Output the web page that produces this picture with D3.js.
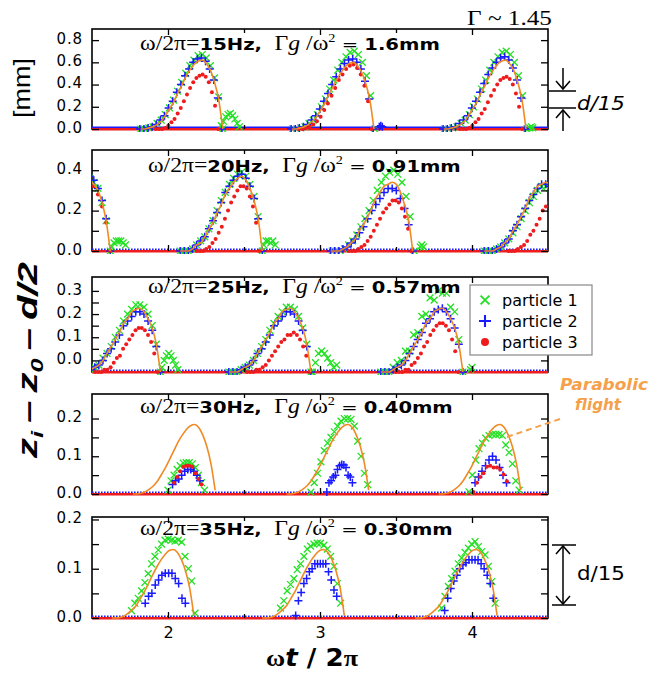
<!DOCTYPE html>
<html><head><meta charset="utf-8">
<script src="https://cdn.jsdelivr.net/npm/d3@7"></script>
<style>body{margin:0;background:#fff}svg{display:block}</style>
</head><body>
<svg id="c" width="664" height="675"></svg>
<script>
// ---------------- DATA ----------------
const xDomain = [1.5, 4.5];
const xMajorTicks = [2, 3, 4];
const xMinorTicks = [2.5, 3.5];
const freqLabels = ["15Hz", "20Hz", "25Hz", "30Hz", "35Hz"];
const ampLabels = ["1.6mm", "0.91mm", "0.57mm", "0.40mm", "0.30mm"];
const yDomains = [[0, 0.9], [0, 0.5], [-0.05, 0.36], [0, 0.265], [0, 0.205]];
const yLabelTicks = [[0, 0.2, 0.4, 0.6, 0.8], [0, 0.2, 0.4], [0, 0.1, 0.2, 0.3], [0, 0.1, 0.2], [0, 0.1, 0.2]];
const yMinorTicks = [[], [0.1, 0.3], [0.05, 0.15, 0.25], [0.05, 0.15], [0.05, 0.15]];
const restLevel = [0, 0, -0.05, 0, 0];
const legendLabels = ["particle 1", "particle 2", "particle 3"];

// tracks: [start (ωt/2π), sample step, heights z_i - z_0 - d/2 (mm)]
const green15 = [
  [1.82, 0.027, [0,0,.01,.02,.05,.08,.13,.19,.26,.34,.42,.50,.57,.62,.66,.67,.64,.57,.46,.29,0]],
  [2.35, 0.015, [.03,.07,.11,.13,.14,.12,.09,.05,.02]],
  [2.82, 0.027, [0,0,.01,.02,.05,.08,.13,.20,.27,.36,.44,.53,.60,.65,.69,.70,.67,.60,.48,.30,0]],
  [3.82, 0.027, [0,0,.01,.02,.05,.08,.13,.20,.27,.36,.44,.53,.60,.65,.69,.70,.67,.60,.48,.30,0]],
  [4.38, 0.01, [.01,.02,.01]]
];
const blue15 = [
  [1.815, 0.027, [0,0,.01,.02,.04,.08,.12,.19,.25,.33,.40,.48,.54,.60,.63,.64,.61,.54,.44,.28,0]],
  [2.81, 0.027, [0,0,.01,.02,.04,.08,.12,.18,.25,.32,.40,.47,.54,.59,.62,.63,.60,.54,.43,.27,0]],
  [3.39, 0.01, [.02,.03,.02]],
  [3.81, 0.027, [0,0,.01,.02,.05,.08,.12,.19,.25,.33,.41,.49,.55,.60,.64,.65,.62,.55,.44,.28,0]]
];
const red15 = [
  [1.92, 0.0205, [0,0,0,.01,.03,.06,.09,.14,.19,.25,.31,.37,.42,.46,.48,.49,.47,.42,.33,.21,0]],
  [2.86, 0.024, [0,0,.01,.02,.04,.07,.11,.17,.23,.30,.37,.44,.49,.54,.57,.58,.55,.49,.39,.25,0]],
  [3.92, 0.0205, [0,0,0,.01,.03,.06,.09,.14,.18,.24,.30,.35,.40,.44,.46,.47,.45,.40,.32,.20,0]]
];
const flight15 = [
  [1.82, 0.027, [0,0,.01,.02,.04,.07,.12,.18,.24,.32,.39,.47,.53,.58,.61,.62,.59,.53,.42,.27,0]],
  [2.815, 0.027, [0,0,.01,.02,.04,.07,.11,.17,.23,.31,.38,.45,.51,.56,.59,.60,.57,.51,.41,.26,0]],
  [3.815, 0.027, [0,0,.01,.02,.04,.07,.12,.18,.24,.32,.39,.47,.53,.58,.61,.62,.59,.53,.42,.27,0]]
];

const green20 = [
  [1.485, 0.027, [.36,.34,.31,.24,.15,0]],
  [1.63, 0.015, [.02,.04,.05,.05,.05,.04,.03]],
  [2.08, 0.027, [0,0,0,.01,.03,.05,.07,.11,.15,.20,.25,.29,.33,.36,.38,.39,.37,.33,.27,.17,0]],
  [2.63, 0.015, [.03,.05,.05,.04,.05,.03]],
  [3.08, 0.027, [0,0,0,.01,.03,.05,.08,.12,.16,.20,.25,.30,.34,.37,.39,.40,.38,.34,.27,.17,0]],
  [3.66, 0.01, [.02,.03,.02]],
  [4.08, 0.027, [0,0,0,.01,.02,.04,.06,.09,.12,.16,.20,.24,.27,.30,.32,.32,.31]]
];
const blue20 = [
  [1.485, 0.027, [.37,.35,.31,.25,.16,0]],
  [2.08, 0.027, [0,0,0,.01,.03,.05,.07,.11,.15,.19,.24,.29,.32,.35,.37,.38,.36,.32,.26,.16,0]],
  [3.07, 0.027, [0,0,0,.01,.02,.04,.06,.09,.12,.16,.20,.23,.26,.29,.31,.31,.30,.26,.21,.13,0]],
  [4.08, 0.027, [0,0,0,.01,.02,.04,.06,.10,.13,.17,.21,.25,.28,.31,.33,.33,.32]]
];
const red20 = [
  [1.485, 0.027, [.33,.32,.28,.22,.14,0]],
  [2.19, 0.0205, [0,0,0,.01,.02,.04,.06,.09,.12,.16,.20,.24,.27,.30,.32,.32,.31,.27,.22,.14,0]],
  [3.19, 0.0205, [0,0,0,.01,.02,.03,.05,.07,.10,.13,.16,.19,.21,.23,.25,.25,.24,.21,.17,.11,0]],
  [4.24, 0.0205, [0,0,0,.01,.02,.03,.05,.08,.10,.13,.16,.20,.22,.24]]
];
const flight20 = [
  [1.485, 0.027, [.35,.33,.30,.24,.15,0]],
  [2.08, 0.027, [0,0,0,.01,.03,.04,.07,.11,.14,.19,.23,.28,.31,.34,.36,.37,.35,.31,.25,.16,0]],
  [3.07, 0.027, [0,0,0,.01,.02,.04,.06,.10,.13,.17,.21,.26,.29,.32,.33,.34,.33,.29,.23,.15,0]],
  [4.08, 0.027, [0,0,0,.01,.02,.04,.06,.10,.13,.17,.21,.26,.29,.32,.33,.34,.33]]
];

const green25 = [
  [1.41, 0.027, [-.05,-.05,-.05,-.04,-.03,-.02,.01,.03,.06,.10,.13,.17,.20,.22,.24,.24,.23,.20,.15,.07,-.05]],
  [1.96, 0.015, [-.03,0,.02,.03,.02,0,-.02,-.04]],
  [2.40, 0.027, [-.05,-.05,-.05,-.04,-.03,-.02,0,.03,.06,.09,.13,.16,.19,.21,.23,.23,.22,.19,.14,.07,-.05]],
  [2.95, 0.02, [-.05,-.01,.03,.04,.03,.01,-.01,-.03,-.02]],
  [3.40, 0.027, [-.05,-.05,-.05,-.03,-.01,0,.04,.04,.11,.12,.19,.20,.27,.26,.30,.29,.29,.23,.21,.09,-.05]],
  [3.99, 0.01, [-.04,-.03]]
];
const blue25 = [
  [1.41, 0.027, [-.05,-.05,-.05,-.04,-.03,-.02,0,.03,.05,.08,.11,.15,.17,.19,.21,.21,.20,.17,.13,.06,-.05]],
  [2.40, 0.027, [-.05,-.05,-.05,-.04,-.03,-.02,0,.03,.05,.08,.11,.15,.17,.19,.21,.21,.20,.17,.13,.06,-.05]],
  [3.40, 0.027, [-.05,-.05,-.05,-.04,-.03,-.02,0,.03,.06,.09,.12,.16,.18,.21,.22,.225,.21,.18,.14,.07,-.05]]
];
const red25 = [
  [1.52, 0.0205, [-.05,-.05,-.05,-.04,-.04,-.03,-.01,.01,.02,.05,.07,.09,.11,.13,.14,.14,.13,.11,.08,.03,-.05]],
  [2.52, 0.0205, [-.05,-.05,-.05,-.04,-.04,-.03,-.02,0,.02,.04,.06,.08,.09,.11,.11,.12,.11,.09,.06,.02,-.05]],
  [3.50, 0.0205, [-.05,-.05,-.05,-.04,-.04,-.02,-.01,.01,.03,.06,.08,.11,.13,.15,.16,.16,.15,.13,.09,.04,-.05]]
];
const flight25 = [
  [1.41, 0.027, [-.05,-.05,-.05,-.04,-.03,-.02,0,.03,.06,.09,.12,.16,.18,.21,.22,.225,.21,.18,.14,.07,-.05]],
  [2.40, 0.027, [-.05,-.05,-.05,-.04,-.03,-.02,0,.03,.06,.09,.12,.16,.18,.21,.22,.225,.21,.18,.14,.07,-.05]],
  [3.40, 0.027, [-.05,-.05,-.05,-.04,-.03,-.02,0,.03,.06,.09,.12,.16,.18,.21,.22,.225,.21,.18,.14,.07,-.05]]
];

const green30 = [
  [2.00, 0.02, [.01,.035,.05,.065,.075,.082,.083,.083,.08,.07,.05,.03,.01]],
  [2.94, 0.022, [.005,.03,.055,.085,.115,.135,.15,.165,.18,.193,.2,.2,.198,.18,.14,.1,.055,.025]],
  [3.98, 0.022, [.006,.05,.09,.12,.135,.148,.155,.158,.158,.158,.155,.13,.11,.08,.035,.01]]
];
const blue30 = [
  [2.03, 0.02, [.025,.035,.04,.05,.06,.065,.065,.06,.05,.035]],
  [3.045, 0.014, [.005,.03,.035,.045,.05,.065,.075,.078,.077,.07,.05,.045,.03]],
  [4.02, 0.023, [.03,.045,.06,.075,.09,.1,.09,.07,.05,.03]]
];
const red30 = [
  [2.04, 0.02, [.03,.045,.06,.072,.075,.075,.072,.055,.04,.025]],
  [4.01, 0.022, [.005,.03,.045,.055,.072,.075,.07,.07,.065,.052,.034]]
];
const flight30 = [
  [1.77, 0.027, [0,0,.002,.006,.013,.022,.035,.053,.072,.094,.116,.138,.156,.171,.181,.184,.176,.156,.125,.079,.01]],
  [2.78, 0.027, [0,0,.002,.006,.013,.022,.035,.053,.072,.094,.116,.138,.156,.171,.181,.184,.176,.156,.125,.079,.01]],
  [3.78, 0.027, [0,0,.002,.006,.013,.022,.035,.053,.072,.094,.116,.138,.156,.171,.181,.184,.176,.156,.125,.079,.01]]
];

const green35 = [
  [1.76, 0.022, [.015,.03,.04,.055,.072,.09,.11,.125,.138,.15,.158,.16,.158,.156,.158,.154,.125,.1,.075,.01]],
  [2.74, 0.022, [.02,.035,.055,.068,.08,.098,.11,.125,.14,.146,.15,.152,.152,.148,.14,.125,.105,.07,.03]],
  [3.80, 0.022, [.02,.044,.064,.08,.095,.11,.122,.133,.142,.15,.155,.145,.135,.128,.105,.074,.03]]
];
const blue35 = [
  [1.85, 0.022, [.03,.044,.05,.067,.077,.087,.091,.091,.091,.08,.07,.04,.03]],
  [2.84, 0.018, [.005,.035,.052,.07,.08,.094,.1,.11,.11,.11,.11,.11,.094,.077,.057,.044]],
  [3.82, 0.02, [.015,.04,.06,.075,.087,.1,.108,.112,.118,.118,.118,.118,.11,.1,.087,.07,.04]]
];
const red35 = [];
const flight35 = [
  [1.63, 0.027, [0,0,.001,.004,.01,.017,.026,.04,.054,.071,.088,.104,.118,.129,.137,.139,.133,.118,.095,.06,.005]],
  [2.62, 0.027, [0,0,.001,.004,.01,.017,.026,.04,.054,.071,.088,.104,.118,.129,.137,.139,.133,.118,.095,.06,.005]],
  [3.625, 0.027, [0,0,.001,.004,.01,.017,.026,.04,.054,.071,.088,.104,.118,.129,.137,.139,.133,.118,.095,.06,.005]]
];

const panelSeries = [
  {green: green15, blue: blue15, red: red15, flight: flight15},
  {green: green20, blue: blue20, red: red20, flight: flight20},
  {green: green25, blue: blue25, red: red25, flight: flight25},
  {green: green30, blue: blue30, red: red30, flight: flight30},
  {green: green35, blue: blue35, red: red35, flight: flight35}
];

// ---------------- LAYOUT / STYLE ----------------
const serif = "'Liberation Serif','DejaVu Serif',serif";
const sans = "'DejaVu Sans',Verdana,sans-serif";
const arial = "'Liberation Sans',Arial,sans-serif";
const C = {green: '#22e022', blue: '#1a1aff', red: '#ee1c1c', orange: '#f08a24', orangeText: '#f5a04a'};
const L = 92, R = 548;
const panelTop = [29, 150, 277, 394, 517];
const panelBot = [129, 251, 372, 494, 618];
const titleX = [140, 148, 148, 140, 140];
const titleY = [50, 172, 293, 413, 535];
const titleW = [300, 313, 313, 313, 313];

const svg = d3.select('#c');
const x = d3.scaleLinear().domain(xDomain).range([L, R]);
const expand = tr => tr[2].map((v, k) => [tr[0] + k * tr[1], v]);
const pathX = 'M-3.4,-3.4L3.4,3.4M-3.4,3.4L3.4,-3.4';
const pathPlus = 'M-4,0H4M0,-4V4';

function fit(t, w) {
  const len = t.node().getComputedTextLength();
  if (len > 0) t.attr('transform', `scale(${w / len},1)`);
}

panelSeries.forEach((S, i) => {
  const y = d3.scaleLinear().domain(yDomains[i]).range([panelBot[i], panelTop[i]]);
  const g = svg.append('g');
  const cid = 'clip' + i;
  svg.append('clipPath').attr('id', cid).append('rect')
    .attr('x', L).attr('y', panelTop[i]).attr('width', R - L).attr('height', panelBot[i] - panelTop[i] + 3);
  g.append('rect').attr('x', L).attr('y', panelTop[i]).attr('width', R - L)
    .attr('height', panelBot[i] - panelTop[i]).attr('fill', 'none').attr('stroke', '#000').attr('stroke-width', 1.6);

  const dg = g.append('g').attr('clip-path', `url(#${cid})`);
  const r = restLevel[i];
  dg.append('line').attr('x1', x(xDomain[0])).attr('x2', x(xDomain[1]))
    .attr('y1', y(r) + 0.2).attr('y2', y(r) + 0.2).attr('stroke', C.red).attr('stroke-width', 2.6);
  dg.append('line').attr('x1', x(xDomain[0])).attr('x2', x(xDomain[1]))
    .attr('y1', y(r) - 1.8).attr('y2', y(r) - 1.8).attr('stroke', C.blue).attr('stroke-width', 1.6)
    .attr('stroke-dasharray', i === 0 ? null : '1.6,1.4');

  const gp = S.green.flatMap(expand);
  dg.append('g').selectAll('path').data(gp).join('path').attr('d', pathX)
    .attr('transform', d => `translate(${x(d[0])},${y(d[1])})`)
    .attr('stroke', C.green).attr('stroke-width', 1.3).attr('fill', 'none');
  const bp = S.blue.flatMap(expand);
  dg.append('g').selectAll('path').data(bp).join('path').attr('d', pathPlus)
    .attr('transform', d => `translate(${x(d[0])},${y(d[1])})`)
    .attr('stroke', C.blue).attr('stroke-width', 1.5).attr('fill', 'none');
  const rp = S.red.flatMap(expand);
  dg.append('g').selectAll('circle').data(rp).join('circle')
    .attr('cx', d => x(d[0])).attr('cy', d => y(d[1])).attr('r', 2).attr('fill', C.red);
  const line = d3.line().x(d => x(d[0])).y(d => y(d[1])).curve(d3.curveMonotoneX);
  dg.append('g').selectAll('path').data(S.flight.map(expand)).join('path')
    .attr('d', line).attr('fill', 'none').attr('stroke', C.orange).attr('stroke-width', 1.6);

  // axes
  const labs = yLabelTicks[i], all = labs.concat(yMinorTicks[i]);
  const la = g.append('g').attr('transform', `translate(${L},0)`)
    .call(d3.axisLeft(y).tickValues(all).tickSize(-7).tickPadding(9)
      .tickFormat(d => labs.includes(d) ? d3.format('.1f')(d) : ''));
  const ra = g.append('g').attr('transform', `translate(${R},0)`)
    .call(d3.axisRight(y).tickValues(all).tickSize(-7).tickFormat(''));
  const ba = g.append('g').attr('transform', `translate(0,${panelBot[i]})`)
    .call(d3.axisBottom(x).tickValues(xMajorTicks).tickSize(-6).tickPadding(9)
      .tickFormat(i === 4 ? d3.format('d') : ''));
  const bm = g.append('g').attr('transform', `translate(0,${panelBot[i]})`)
    .call(d3.axisBottom(x).tickValues(xMinorTicks).tickSize(-4).tickFormat(''));
  const ta = g.append('g').attr('transform', `translate(0,${panelTop[i]})`)
    .call(d3.axisTop(x).tickValues(xMajorTicks).tickSize(-6).tickFormat(''));
  const tm = g.append('g').attr('transform', `translate(0,${panelTop[i]})`)
    .call(d3.axisTop(x).tickValues(xMinorTicks).tickSize(-4).tickFormat(''));
  [la, ra, ba, bm, ta, tm].forEach(a => {
    a.select('.domain').remove();
    a.selectAll('line').attr('stroke', '#000').attr('stroke-width', 1.3);
    a.selectAll('text').attr('font-family', sans).attr('font-size', 15).attr('fill', '#000');
  });
  la.selectAll('text').attr('letter-spacing', 0.9).attr('dy', '0.22em');
  ba.selectAll('text').attr('font-size', 16);

  // title
  const tg = svg.append('g').attr('transform', `translate(${titleX[i]},${titleY[i]})`);
  const t = tg.append('text').attr('fill', '#000');
  t.append('tspan').attr('font-family', serif).attr('font-size', 20).text('ω/2π=');
  t.append('tspan').attr('font-family', sans).attr('font-weight', 'bold').attr('font-size', 16.5).text(freqLabels[i] + ',');
  t.append('tspan').attr('font-family', sans).attr('font-size', 16.5).text('\u00a0\u00a0');
  t.append('tspan').attr('font-family', serif).attr('font-size', 20).text('Γ');
  t.append('tspan').attr('font-family', serif).attr('font-style', 'italic').attr('font-size', 20).text('g');
  t.append('tspan').attr('font-family', serif).attr('font-size', 20).text('\u00a0/ω');
  t.append('tspan').attr('font-family', serif).attr('font-size', 12).attr('dy', -8).text('2');
  t.append('tspan').attr('font-family', sans).attr('font-size', 16.5).attr('dy', 8).text('\u00a0=\u00a0');
  t.append('tspan').attr('font-family', sans).attr('font-weight', 'bold').attr('font-size', 16.5).text(ampLabels[i]);
  fit(t, titleW[i]);
});

// Gamma annotation
{
  const g = svg.append('g').attr('transform', 'translate(467,25)');
  const t = g.append('text').attr('font-family', serif).attr('font-size', 20).text('Γ ~ 1.45');
  fit(t, 85);
}

// axis titles
{
  const g = svg.append('g').attr('transform', 'translate(30,88) rotate(-90)');
  const t = g.append('text').attr('text-anchor', 'middle').attr('font-family', arial).attr('font-size', 23).text('[mm]');
  fit(t, 60);
}
{
  const g = svg.append('g').attr('transform', 'translate(37,360) rotate(-90)');
  const t = g.append('text').attr('text-anchor', 'middle').attr('font-family', arial)
    .attr('font-weight', 'bold').attr('font-style', 'italic').attr('font-size', 27);
  t.append('tspan').text('z');
  t.append('tspan').attr('font-size', 17).attr('dy', 6).text('i');
  t.append('tspan').attr('dy', -6).text('\u2009–\u2009z');
  t.append('tspan').attr('font-size', 17).attr('dy', 6).text('0');
  t.append('tspan').attr('dy', -6).text('\u2009–\u2009d/2');
  fit(t, 196);
}
{
  const g = svg.append('g').attr('transform', 'translate(312,666)');
  const t = g.append('text').attr('text-anchor', 'middle').attr('font-size', 24).attr('font-weight', 'bold');
  t.append('tspan').attr('font-family', serif).text('ω');
  t.append('tspan').attr('font-family', sans).attr('font-style', 'italic').text('t');
  t.append('tspan').attr('font-family', sans).text(' / 2');
  t.append('tspan').attr('font-family', serif).text('π');
  fit(t, 92);
}

// legend
{
  const g = svg.append('g');
  g.append('rect').attr('x', 470).attr('y', 285).attr('width', 122).attr('height', 70)
    .attr('fill', '#fff').attr('stroke', '#888').attr('stroke-width', 1.2);
  const ys = [300, 321, 342];
  g.append('path').attr('d', pathX).attr('transform', `translate(485,${ys[0]}) scale(1.3)`)
    .attr('stroke', C.green).attr('stroke-width', 1.4).attr('fill', 'none');
  g.append('path').attr('d', pathPlus).attr('transform', `translate(485,${ys[1]}) scale(1.5)`)
    .attr('stroke', C.blue).attr('stroke-width', 1.4).attr('fill', 'none');
  g.append('circle').attr('cx', 485).attr('cy', ys[2]).attr('r', 4).attr('fill', C.red);
  legendLabels.forEach((s, k) => {
    g.append('text').attr('x', 502).attr('y', ys[k] + 6).attr('font-family', sans).attr('font-size', 16).text(s);
  });
}

// d/15 brackets
function arrowHead(g, xx, yy, dir) {
  g.append('path').attr('d', `M${xx - 7},${yy - 8 * dir}L${xx},${yy}L${xx + 7},${yy - 8 * dir}`)
    .attr('fill', 'none').attr('stroke', '#000').attr('stroke-width', 1.5);
}
{
  const g = svg.append('g');
  g.append('line').attr('x1', 549).attr('x2', 576).attr('y1', 91).attr('y2', 91).attr('stroke', '#000').attr('stroke-width', 1.5);
  g.append('line').attr('x1', 549).attr('x2', 576).attr('y1', 108).attr('y2', 108).attr('stroke', '#000').attr('stroke-width', 1.5);
  g.append('line').attr('x1', 563).attr('x2', 563).attr('y1', 68).attr('y2', 89).attr('stroke', '#000').attr('stroke-width', 1.5);
  arrowHead(g, 563, 89, 1);
  g.append('line').attr('x1', 563).attr('x2', 563).attr('y1', 110).attr('y2', 131).attr('stroke', '#000').attr('stroke-width', 1.5);
  arrowHead(g, 563, 110, -1);
  const tg = g.append('g').attr('transform', 'translate(577,110)');
  const t = tg.append('text').attr('font-family', sans).attr('font-style', 'italic').attr('font-size', 20).text('d/15');
  fit(t, 48);
}
{
  const g = svg.append('g');
  g.append('line').attr('x1', 552).attr('x2', 576).attr('y1', 545).attr('y2', 545).attr('stroke', '#000').attr('stroke-width', 1.5);
  g.append('line').attr('x1', 552).attr('x2', 576).attr('y1', 605).attr('y2', 605).attr('stroke', '#000').attr('stroke-width', 1.5);
  g.append('line').attr('x1', 563).attr('x2', 563).attr('y1', 546).attr('y2', 604).attr('stroke', '#000').attr('stroke-width', 1.5);
  arrowHead(g, 563, 546, -1);
  arrowHead(g, 563, 604, 1);
  const tg = g.append('g').attr('transform', 'translate(577,580)');
  const t = tg.append('text').attr('font-family', sans).attr('font-size', 19).text('d/15');
  fit(t, 48);
}

// Parabolic flight annotation
{
  const g = svg.append('g');
  g.append('line').attr('x1', 507).attr('y1', 437).attr('x2', 560).attr('y2', 419)
    .attr('stroke', C.orangeText).attr('stroke-width', 2).attr('stroke-dasharray', '6,4');
  const a = g.append('g').attr('transform', 'translate(604,390)');
  const t1 = a.append('text').attr('text-anchor', 'middle').attr('font-family', sans).attr('font-weight', 'bold')
    .attr('font-style', 'italic').attr('font-size', 15).attr('fill', C.orangeText).text('Parabolic');
  fit(t1, 88);
  const b = svg.append('g').attr('transform', 'translate(598,410)');
  const t2 = b.append('text').attr('text-anchor', 'middle').attr('font-family', sans).attr('font-weight', 'bold')
    .attr('font-style', 'italic').attr('font-size', 15).attr('fill', C.orangeText).text('flight');
  fit(t2, 46);
}
</script>
</body></html>
